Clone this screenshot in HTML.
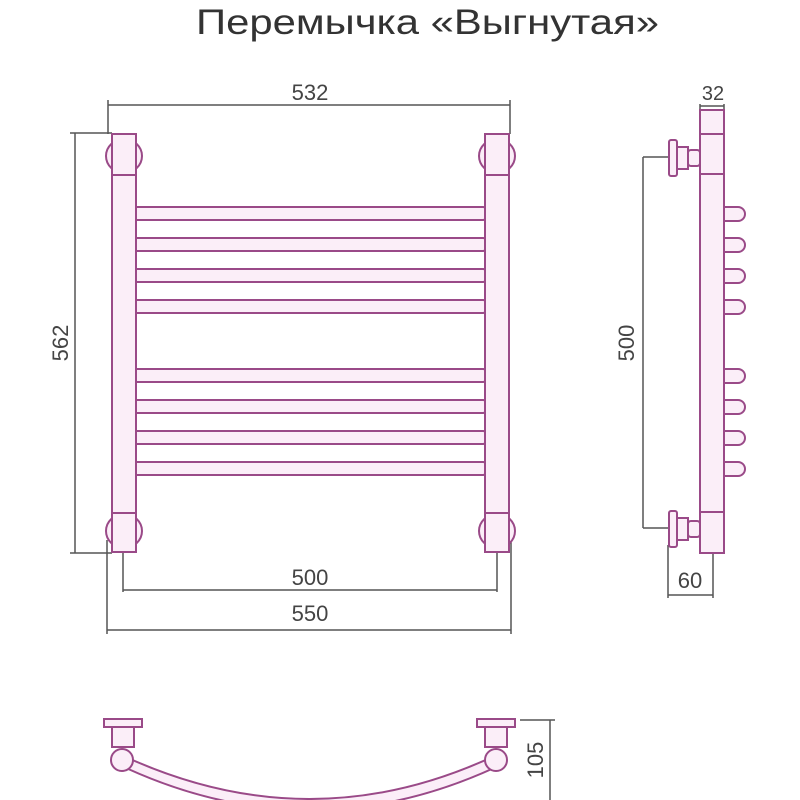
<!DOCTYPE html>
<html><head><meta charset="utf-8"><style>html,body{margin:0;padding:0;background:#fff}svg{display:block}</style></head>
<body>
<svg width="800" height="800" viewBox="0 0 800 800" xmlns="http://www.w3.org/2000/svg" font-family="Liberation Sans, sans-serif">
<rect width="800" height="800" fill="#fff"/>
<text x="196" y="34" font-size="35" fill="#333" textLength="463" lengthAdjust="spacingAndGlyphs">Перемычка «Выгнутая»</text>

<g stroke="#555" stroke-width="1.5" fill="none">
  <path d="M108 105H510M108 100V134M510 100V134"/>
  <path d="M75 133V553M70 133H112M70 553H112"/>
  <path d="M123 553V592M497 553V592M123 590H497"/>
  <path d="M107 540V634M511 540V634M107 630H511"/>
  <path d="M700 110V104M724 110V104M700 106H724"/>
  <path d="M643 157V528M643 157H670M643 528H670"/>
  <path d="M668 545V598M713 553V598M668 595H713"/>
  <path d="M550 720V800M520 720H555"/>
</g>
<g fill="#444" font-size="22">
  <text x="310" y="100" text-anchor="middle">532</text>
  <text x="310" y="585" text-anchor="middle">500</text>
  <text x="310" y="621" text-anchor="middle">550</text>
  <text x="713" y="100" text-anchor="middle" font-size="20">32</text>
  <text x="690" y="588" text-anchor="middle">60</text>
  <text transform="translate(68,343) rotate(-90)" text-anchor="middle">562</text>
  <text transform="translate(634,343) rotate(-90)" text-anchor="middle">500</text>
  <text transform="translate(543,760) rotate(-90)" text-anchor="middle">105</text>
</g>

<g stroke="#9a4a88" stroke-width="2" fill="#fbeef8">
  <g>
    <rect x="131" y="207" width="358" height="13" rx="6"/>
    <rect x="131" y="238" width="358" height="13" rx="6"/>
    <rect x="131" y="269" width="358" height="13" rx="6"/>
    <rect x="131" y="300" width="358" height="13" rx="6"/>
    <rect x="131" y="369" width="358" height="13" rx="6"/>
    <rect x="131" y="400" width="358" height="13" rx="6"/>
    <rect x="131" y="431" width="358" height="13" rx="6"/>
    <rect x="131" y="462" width="358" height="13" rx="6"/>
  </g>
  <rect x="112" y="134" width="24" height="418"/>
  <rect x="485" y="134" width="24" height="418"/>
  <ellipse cx="124" cy="156" rx="18" ry="17"/>
  <rect x="112" y="134" width="24" height="41"/>
  <ellipse cx="497" cy="156" rx="18" ry="17"/>
  <rect x="485" y="134" width="24" height="41"/>
  <ellipse cx="124" cy="531" rx="18" ry="17"/>
  <rect x="112" y="513" width="24" height="39"/>
  <ellipse cx="497" cy="531" rx="18" ry="17"/>
  <rect x="485" y="513" width="24" height="39"/>

  <g>
    <path d="M724 207H738A7 7 0 0 1 738 221H724Z"/>
    <path d="M724 238H738A7 7 0 0 1 738 252H724Z"/>
    <path d="M724 269H738A7 7 0 0 1 738 283H724Z"/>
    <path d="M724 300H738A7 7 0 0 1 738 314H724Z"/>
    <path d="M724 369H738A7 7 0 0 1 738 383H724Z"/>
    <path d="M724 400H738A7 7 0 0 1 738 414H724Z"/>
    <path d="M724 431H738A7 7 0 0 1 738 445H724Z"/>
    <path d="M724 462H738A7 7 0 0 1 738 476H724Z"/>
  </g>
  <rect x="700" y="110" width="24" height="443"/>
  <path d="M700 134H724M700 174H724M700 512H724" fill="none"/>
  <rect x="669" y="140" width="8" height="36" rx="2"/>
  <rect x="677" y="147" width="11" height="22"/>
  <rect x="688" y="150" width="12" height="16" rx="3"/>
  <rect x="669" y="511" width="8" height="36" rx="2"/>
  <rect x="677" y="518" width="11" height="22"/>
  <rect x="688" y="521" width="12" height="16" rx="3"/>

  <path d="M128 758 Q310 840 490 758 L494 768 Q310 852 126 768 Z"/>
  <rect x="104" y="719" width="38" height="8"/>
  <rect x="112" y="727" width="22" height="20"/>
  <circle cx="122" cy="760" r="11"/>
  <rect x="477" y="719" width="38" height="8"/>
  <rect x="485" y="727" width="22" height="20"/>
  <circle cx="496" cy="760" r="11"/>
</g>
</svg>
</body></html>
